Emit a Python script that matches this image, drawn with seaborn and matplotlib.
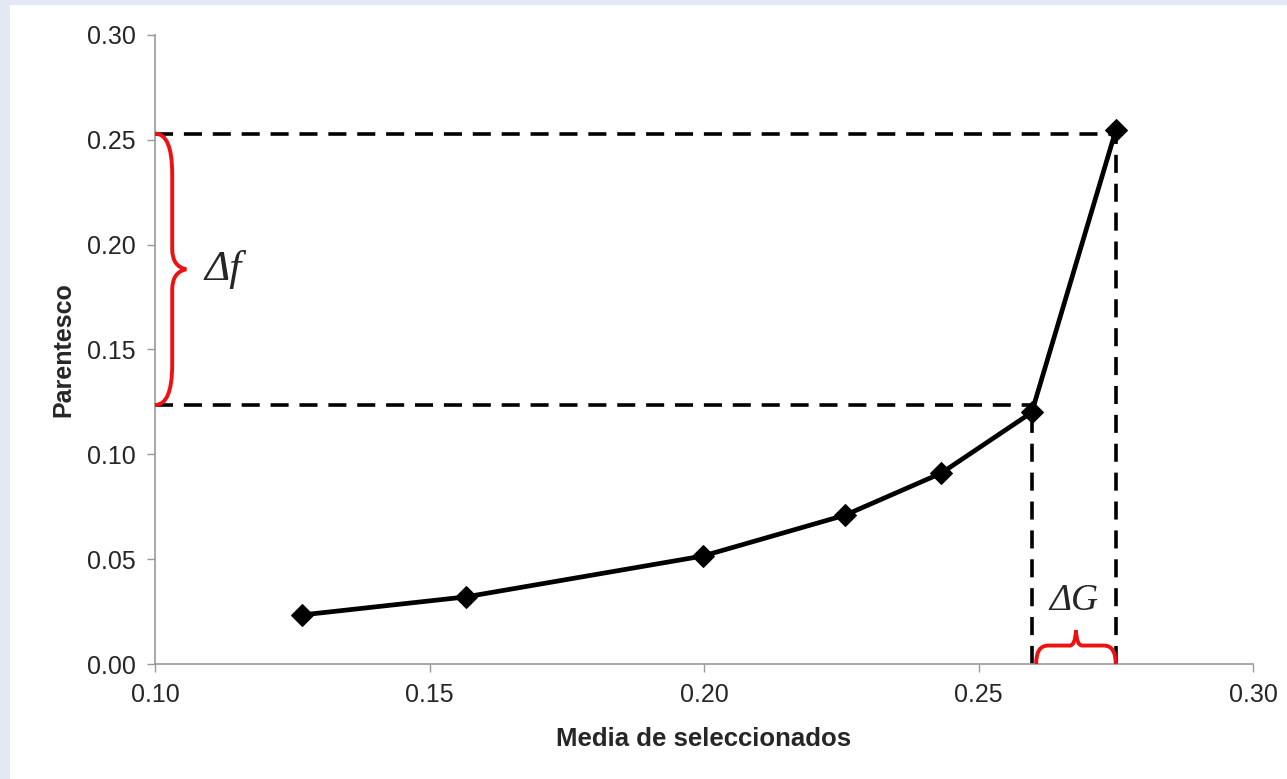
import numpy as np
import pandas as pd
import matplotlib
matplotlib.use("Agg")
import matplotlib.pyplot as plt
from matplotlib.path import Path
from matplotlib.patches import PathPatch, Rectangle
import seaborn as sns

# values
media = [0.1268, 0.1566, 0.1998, 0.2257, 0.2432, 0.2597, 0.2750]
parentesco = [0.0234, 0.0320, 0.0515, 0.0710, 0.0910, 0.1200, 0.2545]
f_low, f_high = 0.1235, 0.2530
x_ticks = [0.10, 0.15, 0.20, 0.25, 0.30]
y_ticks = [0.00, 0.05, 0.10, 0.15, 0.20, 0.25, 0.30]

data = pd.DataFrame({"Media": media, "Parentesco": parentesco})

sns.set_style("white")
plt.rcParams["font.family"] = ["Liberation Sans", "DejaVu Sans"]

fig = plt.figure(figsize=(12.87, 7.79), dpi=100)
fig.patch.set_facecolor("#e2e9f3")
fig.patches.append(Rectangle((10 / 1287, 0), 1, 1 - 5 / 779, transform=fig.transFigure,
                             facecolor="white", edgecolor="none", zorder=-10))
ax = fig.add_axes([155 / 1287, 115 / 779, 1098 / 1287, 629 / 779])
ax.set_facecolor("none")

# dashed guide lines
dash = dict(color="black", lw=2.6, linestyle=(0, (5, 3)), zorder=2)
ax.plot([0.10, media[-1]], [f_high, f_high], **dash)
ax.plot([0.10, media[-2]], [f_low, f_low], **dash)
ax.plot([media[-2], media[-2]], [0, f_low], **dash)
ax.plot([media[-1], media[-1]], [0, parentesco[-1]], **dash)

sns.lineplot(data=data, x="Media", y="Parentesco", ax=ax, color="black", lw=3.4,
             marker="D", markersize=11, markeredgecolor="black", zorder=3)


def brace(ax, a, b, pos, width, vertical):
    # curly brace from a to b at base position pos, bulging by width
    m = (a + b) / 2
    w1 = width * 0.55
    pts = [(pos, a), (pos + w1, a), (pos + w1, a + (m - a) * 0.3),
           (pos + w1, m - (m - a) * 0.15), (pos + w1, m - (m - a) * 0.02), (pos + width, m),
           (pos + w1, m + (b - m) * 0.02), (pos + w1, m + (b - m) * 0.15),
           (pos + w1, b - (b - m) * 0.3), (pos + w1, b), (pos, b)]
    codes = [Path.MOVETO, Path.CURVE3, Path.CURVE3, Path.LINETO,
             Path.CURVE3, Path.CURVE3, Path.CURVE3, Path.CURVE3,
             Path.LINETO, Path.CURVE3, Path.CURVE3]
    if vertical:
        verts = pts
    else:
        verts = [(y, x) for x, y in pts]
    ax.add_patch(PathPatch(Path(verts, codes), facecolor="none", edgecolor="#ee1111",
                           lw=2.8, zorder=4, clip_on=False))


brace(ax, f_low, f_high, 0.1000, 0.0057, vertical=True)
brace(ax, media[-2] + 0.0008, media[-1], 0.0, 0.016, vertical=False)

ax.text(0.1090, (f_low + f_high) / 2, "Δf", fontsize=31, family=["Liberation Serif"],
        style="italic", va="center", ha="left")
ax.text((media[-2] + media[-1]) / 2, 0.030, "ΔG", fontsize=27, family=["Liberation Serif"],
        style="italic", va="center", ha="center")

ax.set_xlim(0.10, 0.30)
ax.set_ylim(0.0, 0.30)
ax.set_xticks(x_ticks)
ax.set_yticks(y_ticks)
ax.set_xticklabels([f"{v:.2f}" for v in x_ticks])
ax.set_yticklabels([f"{v:.2f}" for v in y_ticks])
ax.tick_params(axis="both", labelsize=18, length=6, width=1, color="#999999",
               direction="out", pad=8, bottom=True, left=True)
for side in ["top", "right"]:
    ax.spines[side].set_visible(False)
for side in ["left", "bottom"]:
    ax.spines[side].set_color("#999999")
    ax.spines[side].set_linewidth(1.2)
ax.set_xlabel("Media de seleccionados", fontsize=18.5, fontweight="bold", labelpad=14)
ax.set_ylabel("Parentesco", fontsize=18, fontweight="bold", labelpad=8)

fig.savefig("out.png", dpi=100, facecolor=fig.get_facecolor())
